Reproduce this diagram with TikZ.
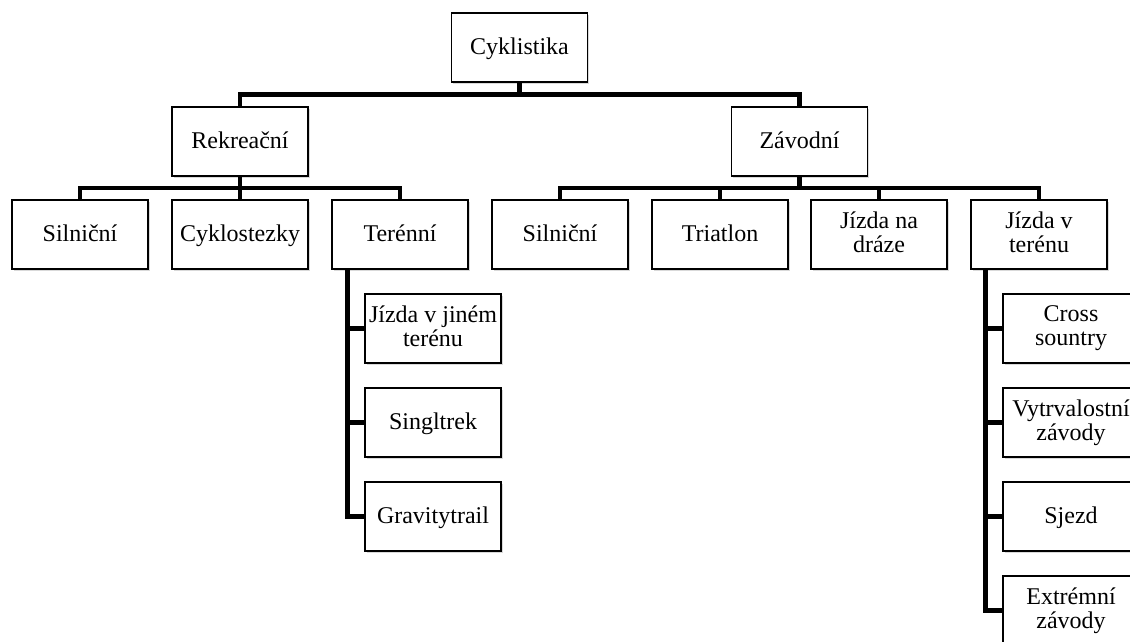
\documentclass[tikz,border=0pt]{standalone}
\usepackage{fontspec}
\setmainfont{Liberation Serif}
\usepackage{tikz}
\usetikzlibrary{calc,shadows}
\tikzset{
	box/.style={draw, line width=1.2pt, fill=white, minimum width=136pt, minimum height=69pt, inner sep=0pt, align=center, font=\fontsize{24}{24}\selectfont, execute at begin node={\rule{0pt}{19pt}}, execute at end node={\rule[-5.5pt]{0pt}{5.5pt}}, drop shadow={opacity=0.3, shadow xshift=1.5pt, shadow yshift=-1.5pt}},
	conn/.style={line width=4.6pt, line join=miter}
}

\begin{document}
\begin{tikzpicture}[x=1pt, y=-1pt]
			%%%%% START %%%%%
			
			\useasboundingbox (0, 0) rectangle (1130, 641);
			
			\node[box] (cyk) at (519.5, 47.5) {Cyklistika};
			
			\node[box] (rek) at (240, 141.5) {Rekreační};
			\node[box] (zav) at (799.5, 141.5) {Závodní};
			
			\node[box] (sil1) at (80, 234.5) {Silniční};
			\node[box] (cykl) at (240, 234.5) {Cyklostezky};
			\node[box] (ter) at (400, 234.5) {Terénní};
			
			\node[box] (sil2) at (560, 234.5) {Silniční};
			\node[box] (tri) at (720, 234.5) {Triatlon};
			\node[box] (draha) at (879, 234.5) {Jízda na\\dráze};
			\node[box] (teren) at (1039, 234.5) {Jízda v\\terénu};
			
			\node[box] (jiny) at (433, 328.5) {Jízda v jiném\\terénu};
			\node[box] (singl) at (433, 422.5) {Singltrek};
			\node[box] (grav) at (433, 516.5) {Gravitytrail};
			
			\node[box] (cross) at (1071, 328.5) {Cross\\sountry};
			\node[box] (vytr) at (1071, 422.5) {Vytrvalostní\\závody};
			\node[box] (sjezd) at (1071, 516.5) {Sjezd};
			\node[box] (extr) at (1071, 610.5) {Extrémní\\závody};
			
			% top level
			\coordinate (b0) at ($(cyk.south)!0.5!(cyk.south |- rek.north)$);
			\draw[conn] (cyk.south) -- (b0);
			\draw[conn] (rek.north) |- (b0) -| (zav.north);
			
			% Rekreační
			\coordinate (b1) at ($(rek.south)!0.5!(cykl.north)$);
			\draw[conn] (rek.south) -- (cykl.north);
			\draw[conn] (sil1.north) |- (b1) -| (ter.north);
			
			% Závodní
			\coordinate (b2) at ($(zav.south)!0.5!(zav.south |- tri.north)$);
			\draw[conn] (zav.south) -- (b2);
			\draw[conn] (sil2.north) |- (b2) -| (teren.north);
			\draw[conn] (tri.north) -- (tri.north |- b2);
			\draw[conn] (draha.north) -- (draha.north |- b2);
			
			% Terénní
			\coordinate (t0) at ([xshift=16pt]ter.south west);
			\draw[conn] (t0) |- (grav.west);
			\draw[conn] (t0 |- jiny.west) -- (jiny.west);
			\draw[conn] (t0 |- singl.west) -- (singl.west);
			
			% Jízda v terénu
			\coordinate (t1) at ([xshift=15pt]teren.south west);
			\draw[conn] (t1) |- (extr.west);
			\draw[conn] (t1 |- cross.west) -- (cross.west);
			\draw[conn] (t1 |- vytr.west) -- (vytr.west);
			\draw[conn] (t1 |- sjezd.west) -- (sjezd.west);
			
			%%%%% END %%%%%
		\end{tikzpicture}
\end{document}
